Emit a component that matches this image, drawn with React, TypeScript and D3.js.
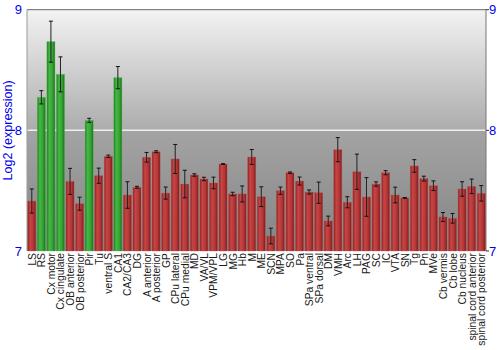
import React from "react";
import * as d3 from "d3";

const categories = ["LS","RS","Cx motor","Cx cingulate","OB anterior","OB posterior","Pir","Tu","ventral S","CA1","CA2/CA3","DG","A anterior","A posterior","GP","CPu lateral","CPu medial","MD","VA/VL","VPM/VPL","LG","MG","Hb","M","ME","SCN","MPA","SO","Pa","SPa ventral","SPa dorsal","DM","VMH","Arc","LH","PAG","SC","IC","VTA","SN","Tg","Pn","MVe","Cb vermis","Cb lobe","Cb nucleus","spinal cord anterior","spinal cord posterior"];
const values = [7.414,8.274,8.735,8.464,7.577,7.392,8.083,7.624,7.785,8.437,7.464,7.528,7.777,7.823,7.48,7.763,7.555,7.63,7.597,7.564,7.721,7.473,7.473,7.779,7.45,7.124,7.5,7.649,7.58,7.489,7.483,7.249,7.84,7.404,7.657,7.448,7.555,7.649,7.464,7.44,7.705,7.6,7.541,7.282,7.271,7.514,7.536,7.478];
const errors = [0.1,0.055,0.17,0.145,0.108,0.054,0.017,0.063,0.01,0.092,0.11,0.008,0.04,0.008,0.05,0.12,0.114,0.01,0.014,0.048,0.003,0.014,0.066,0.062,0.082,0.065,0.03,0.006,0.033,0.017,0.088,0.04,0.1,0.046,0.146,0.16,0.018,0.017,0.065,0.003,0.052,0.02,0.04,0.037,0.04,0.06,0.06,0.064];
const highlighted = ["RS","Cx motor","Cx cingulate","Pir","CA1"];
const yTicks = [7, 8, 9];
const yTitle = "Log2 (expression)";

export default function App() {
  const W = 500, H = 350;
  const left = 27, right = 486, top = 9.7, bottom = 251;
  const x = d3.scaleBand<string>().domain(categories).range([left, right]).paddingInner(0.16).paddingOuter(0.08);
  const y = d3.scaleLinear().domain([7, 9]).range([bottom, top]);
  const font = "'Liberation Sans', Arial, sans-serif";
  const bw = x.bandwidth();
  return (
    <svg width={W} height={H} style={{ position: "absolute", left: 0, top: 0 }} fontFamily={font}>
      <defs>
        <linearGradient id="bg" x1="0" y1="0" x2="0" y2="1">
          <stop offset="0" stopColor="#f3f3f3" />
          <stop offset="0.5" stopColor="#acacac" />
          <stop offset="0.5" stopColor="#a4a4a4" />
          <stop offset="1" stopColor="#848484" />
        </linearGradient>
        <linearGradient id="red" x1="0" y1="0" x2="1" y2="0">
          <stop offset="0" stopColor="#8a2222" />
          <stop offset="0.3" stopColor="#c94545" />
          <stop offset="0.7" stopColor="#b33535" />
          <stop offset="1" stopColor="#7a1c1c" />
        </linearGradient>
        <linearGradient id="green" x1="0" y1="0" x2="1" y2="0">
          <stop offset="0" stopColor="#1f7d1f" />
          <stop offset="0.3" stopColor="#45b945" />
          <stop offset="0.7" stopColor="#33a233" />
          <stop offset="1" stopColor="#1c6e1c" />
        </linearGradient>
      </defs>
      <rect x={left} y={top} width={right - left} height={bottom - top} fill="url(#bg)" />
      {yTicks.filter(t => t > 7 && t < 9).map(t => (
        <line key={t} x1={left} x2={right} y1={y(t)} y2={y(t)} stroke="#eeeeee" strokeWidth={1.5} />
      ))}
      <line x1={left} x2={right} y1={top} y2={top} stroke="#666" strokeWidth={1} />
      <line x1={right} x2={right} y1={top} y2={bottom} stroke="#777" strokeWidth={1} />
      <line x1={left} x2={left} y1={top} y2={bottom} stroke="#999" strokeWidth={1} />
      {categories.map((c, i) => {
        const v = values[i];
        const e = errors[i];
        const bx = x(c)!;
        const cx = bx + bw / 2;
        const hl = highlighted.includes(c);
        return (
          <g key={c}>
            <rect x={bx} y={y(v)} width={bw} height={bottom - y(v)} fill={hl ? "url(#green)" : "url(#red)"} stroke={hl ? "#4cc04c" : "#c85050"} strokeWidth={0.6} strokeOpacity={0.6} />
            <line x1={cx} x2={cx} y1={y(v + e)} y2={y(v - e)} stroke="#222" strokeWidth={1} />
            <line x1={cx - 2} x2={cx + 2} y1={y(v + e)} y2={y(v + e)} stroke="#111" strokeWidth={1} />
            <line x1={cx - 2} x2={cx + 2} y1={y(v - e)} y2={y(v - e)} stroke="#111" strokeWidth={1} />
            <text transform={`translate(${cx + 4},${bottom + 2}) rotate(-90)`} textAnchor="end" fontSize={10.3} fill="#1a1a1a">{c}</text>
          </g>
        );
      })}
      {yTicks.map(t => (
        <g key={t}>
          <text x={22} y={y(t) + 4.5} textAnchor="end" fontSize={13} fill="#0000ee">{t}</text>
          <line x1={right} x2={right + 3} y1={y(t)} y2={y(t)} stroke="#333" strokeWidth={1} />
          <text x={489} y={y(t) + 4.5} textAnchor="start" fontSize={13} fill="#0000ee">{t}</text>
        </g>
      ))}
      <text transform={`translate(12,${(top + bottom) / 2}) rotate(-90)`} textAnchor="middle" fontSize={12.5} fill="#0000ee">{yTitle}</text>
    </svg>
  );
}
